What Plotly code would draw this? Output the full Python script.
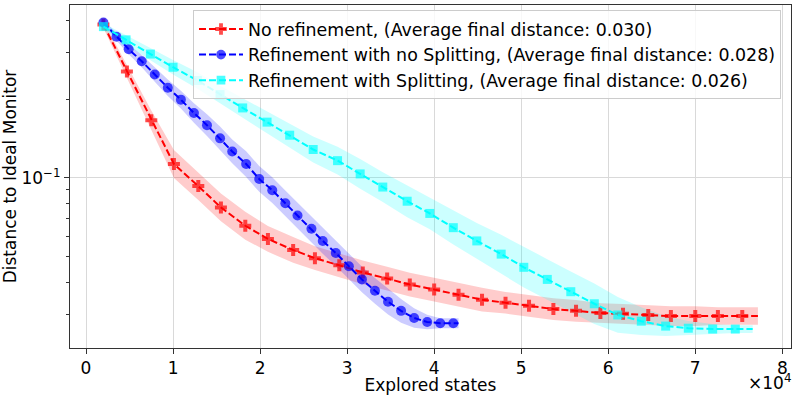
"""Distance to ideal monitor vs explored states, three refinement strategies."""

import plotly.graph_objects as go

# Explored states (the last entry of each list is where the line stops, no marker)
red_x = [2000, 4700, 7500, 10100, 12900, 15500, 18300, 20900, 23800, 26300,
         29100, 31800, 34600, 37200, 40000, 42800, 45500, 48200, 50900, 53700,
         56300, 59100, 61700, 64600, 67200, 70000, 72600, 75400, 77200]
red_y = [0.385, 0.255, 0.166, 0.113, 0.0931, 0.0772, 0.0657, 0.0585, 0.0531, 0.0494,
         0.0464, 0.0436, 0.0413, 0.0392, 0.0375, 0.0358, 0.0343, 0.0334, 0.0325, 0.0316,
         0.0311, 0.0305, 0.0303, 0.0300, 0.0297, 0.0297, 0.0297, 0.0297, 0.0297]
red_spread = [1.03, 1.055, 1.09, 1.13, 1.13, 1.13, 1.13, 1.12, 1.12, 1.11,
              1.11, 1.11, 1.11, 1.11, 1.11, 1.11, 1.11, 1.10, 1.10, 1.10,
              1.10, 1.09, 1.09, 1.09, 1.09, 1.09, 1.08, 1.08, 1.08]

blue_x = [2000, 3500, 4900, 6400, 7900, 9400, 10900, 12400, 13900, 15400,
          16800, 18400, 19900, 21400, 22900, 24300, 25900, 27200, 28700, 30200,
          31700, 33200, 34700, 36200, 37700, 39200, 40700, 42200, 42800]
blue_y = [0.392, 0.346, 0.310, 0.279, 0.248, 0.221, 0.199, 0.177, 0.159, 0.1416,
          0.1262, 0.113, 0.0991, 0.0898, 0.0800, 0.0719, 0.0640, 0.0575, 0.0517, 0.0460,
          0.0410, 0.0371, 0.0337, 0.0311, 0.0292, 0.0282, 0.0279, 0.0279, 0.0279]
blue_spread = [1.02, 1.035, 1.045, 1.055, 1.065, 1.075, 1.08, 1.09, 1.10, 1.11,
               1.11, 1.12, 1.12, 1.12, 1.12, 1.12, 1.12, 1.12, 1.12, 1.12,
               1.12, 1.12, 1.12, 1.11, 1.09, 1.065, 1.045, 1.045, 1.045]

cyan_x = [2000, 4600, 7400, 10000, 12800, 15400, 18000, 20800, 23400, 26100,
          28900, 31500, 34100, 36900, 39500, 42200, 44900, 47700, 50300, 53000,
          55700, 58400, 61100, 63800, 66600, 69200, 72000, 74600, 76600]
cyan_y = [0.378, 0.3365, 0.297, 0.2645, 0.2355, 0.208, 0.185, 0.1633, 0.1456, 0.1284,
          0.1164, 0.1036, 0.0923, 0.0815, 0.0732, 0.0646, 0.0575, 0.0512, 0.0456, 0.0410,
          0.0368, 0.0331, 0.0300, 0.0284, 0.0272, 0.0267, 0.0265, 0.0265, 0.0265]
cyan_spread = [1.03, 1.045, 1.055, 1.065, 1.075, 1.08, 1.09, 1.10, 1.11, 1.12,
               1.13, 1.14, 1.14, 1.15, 1.15, 1.16, 1.17, 1.185, 1.195, 1.195,
               1.195, 1.195, 1.17, 1.13, 1.09, 1.065, 1.045, 1.035, 1.035]

names = [
    "No refinement, (Average final distance: 0.030)",
    "Refinement with no Splitting, (Average final distance: 0.028)",
    "Refinement with Splitting, (Average final distance: 0.026)",
]

x_tickvals = [0, 10000, 20000, 30000, 40000, 50000, 60000, 70000, 80000]
x_ticktext = ["0", "1", "2", "3", "4", "5", "6", "7", "8"]
y_minor = [0.03, 0.04, 0.05, 0.06, 0.07, 0.08, 0.09, 0.2, 0.3, 0.4]

FONT = "DejaVu Sans"

series = [
    (red_x, red_y, red_spread, "#ff0000", "rgba(255,0,0,0.2)", "cross", 10),
    (blue_x, blue_y, blue_spread, "#0000ff", "rgba(0,0,255,0.2)", "circle", 10),
    (cyan_x, cyan_y, cyan_spread, "#00ffff", "rgba(0,255,255,0.2)", "square", 9),
]

fig = go.Figure()

# shaded bands first so every line sits on top
for xs, ys, spread, color, band, symbol, size in series:
    upper = [y * s for y, s in zip(ys, spread)]
    lower = [y / s for y, s in zip(ys, spread)]
    fig.add_trace(go.Scatter(x=xs, y=upper, mode="lines", line=dict(width=0),
                             showlegend=False, hoverinfo="skip"))
    fig.add_trace(go.Scatter(x=xs, y=lower, mode="lines", line=dict(width=0),
                             fill="tonexty", fillcolor=band,
                             showlegend=False, hoverinfo="skip"))

for (xs, ys, spread, color, band, symbol, size), name in zip(series, names):
    sizes = [size] * (len(xs) - 1) + [0]
    fig.add_trace(go.Scatter(
        x=xs, y=ys, mode="lines+markers", name=name,
        line=dict(color=color, width=2, dash="7px,3px"),
        marker=dict(symbol=symbol, size=sizes, color=color, line=dict(width=0)),
    ))

fig.add_annotation(x=1, y=0, xref="paper", yref="paper", xanchor="right", yanchor="top",
                   yshift=-21, xshift=2, text="×10<sup>4</sup>", showarrow=False,
                   font=dict(family=FONT, size=17, color="black"))

fig.update_layout(
    width=797, height=395,
    margin=dict(l=70, r=6, t=5, b=47),
    paper_bgcolor="white", plot_bgcolor="white",
    font=dict(family=FONT, size=17, color="black"),
    xaxis=dict(
        range=[-1840, 81000], tickvals=x_tickvals, ticktext=x_ticktext,
        automargin=False,
        showgrid=True, gridcolor="#d9d9d9", gridwidth=1, zeroline=False,
        showline=True, mirror=True, linecolor="#333", linewidth=1,
        ticks="outside", ticklen=5, tickcolor="#333",
        title=dict(text="Explored states", font=dict(size=17), standoff=0),
    ),
    yaxis=dict(
        type="log", range=[-1.649, -0.340],
        tickvals=[0.1], ticktext=["10<sup>−1</sup>"],
        automargin=False,
        showgrid=True, gridcolor="#d9d9d9", gridwidth=1, zeroline=False,
        showline=True, mirror=True, linecolor="#333", linewidth=1,
        ticks="outside", ticklen=5, tickcolor="#333",
        minor=dict(tickvals=y_minor, ticks="outside", ticklen=3, tickcolor="#333",
                   showgrid=False),
        title=dict(text="Distance to Ideal Monitor", font=dict(size=17), standoff=1),
    ),
    legend=dict(
        x=0.1706, y=0.985, xanchor="left", yanchor="top", traceorder="normal",
        bgcolor="rgba(255,255,255,0.8)", bordercolor="#cccccc", borderwidth=1,
        font=dict(family=FONT, size=17.4), tracegroupgap=0, itemwidth=44,
    ),
)

# the page body has a default 8px margin; drop it so the figure fills the window
fig.write_html("out.html", config={"displayModeBar": False},
               post_script="document.body.style.margin = '0';")
